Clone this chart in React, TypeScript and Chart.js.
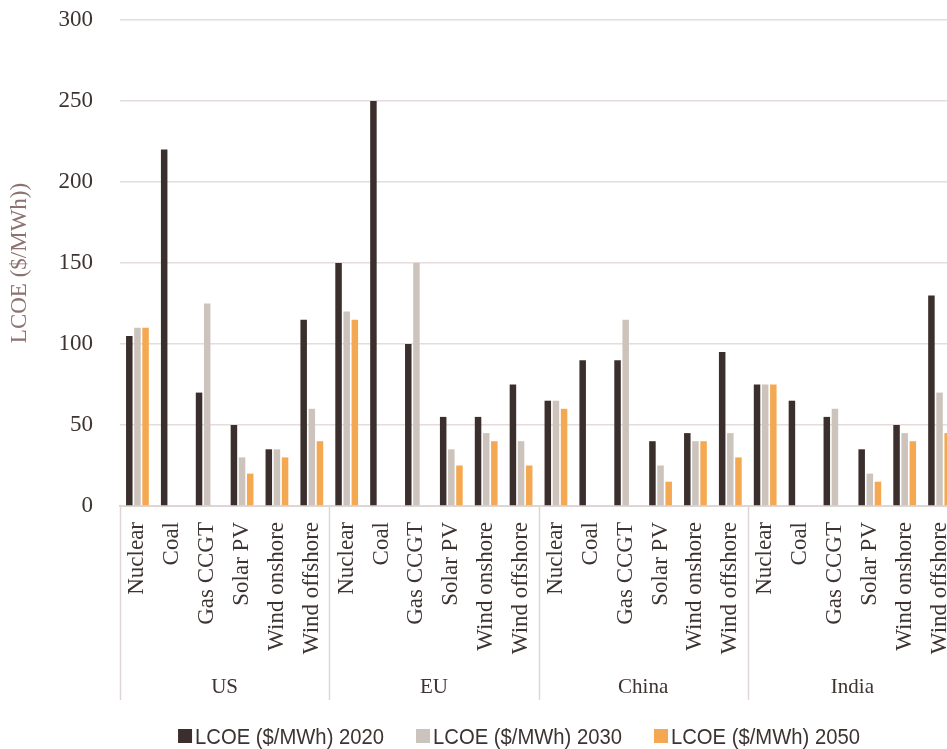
import React, { useEffect, useRef } from "react";
import { Chart, registerables } from "chart.js";

Chart.register(...registerables);

const regions = ["US", "EU", "China", "India"];
const technologies = ["Nuclear", "Coal", "Gas CCGT", "Solar PV", "Wind onshore", "Wind offshore"];
const seriesNames = ["LCOE ($/MWh) 2020", "LCOE ($/MWh) 2030", "LCOE ($/MWh) 2050"];
const lcoe2020 = [105, 220, 70, 50, 35, 115, 150, 250, 100, 55, 55, 75, 65, 90, 90, 40, 45, 95, 75, 65, 55, 35, 50, 130];
const lcoe2030 = [110, null, 125, 30, 35, 60, 120, null, 150, 35, 45, 40, 65, null, 115, 25, 40, 45, 75, null, 60, 20, 45, 70];
const lcoe2050 = [110, null, null, 20, 30, 40, 115, null, null, 25, 40, 25, 60, null, null, 15, 40, 30, 75, null, null, 15, 40, 45];
const yMin = 0;
const yMax = 300;
const yStep = 50;

const seriesColors = ["#3b2f2d", "#cdc3bd", "#f5a852"];
const TEXT = "#3d3331";
const SERIF = '"Liberation Serif", "Times New Roman", serif';
const SANS = '"Liberation Sans", Arial, sans-serif';
const W = 1038;
const H = 749;
const X_AXIS_H = 194;
const LEGEND_H = 49;

const groupPlugin = {
  id: "regionGroups",
  afterDraw(chart: any) {
    const { ctx } = chart;
    const x = chart.scales.x;
    const n = technologies.length;
    const total = x.getLabels().length;
    const cw = (x.right - x.left) / total;
    const top = x.top;
    const bottom = x.top + X_AXIS_H;
    ctx.save();
    ctx.strokeStyle = "#ddd6d4";
    ctx.lineWidth = 1.5;
    for (let g = 0; g <= regions.length; g++) {
      const px = Math.round(x.left + g * n * cw) + 0.5;
      ctx.beginPath();
      ctx.moveTo(px, top);
      ctx.lineTo(px, bottom);
      ctx.stroke();
    }
    ctx.fillStyle = TEXT;
    ctx.font = `21px ${SERIF}`;
    ctx.textAlign = "center";
    ctx.textBaseline = "middle";
    regions.forEach((r, g) => {
      const cx = x.left + (g * n + n / 2) * cw;
      ctx.fillText(r, cx, top + 181);
    });

    // legend
    const datasets = chart.data.datasets;
    const sx = 0.92;
    const box = 14;
    const gap = 3;
    const spacing = 32;
    ctx.font = `22px ${SANS}`;
    ctx.textAlign = "left";
    ctx.textBaseline = "alphabetic";
    const widths = datasets.map((d: any) => ctx.measureText(d.label).width * sx);
    const totalW = widths.reduce((a: number, w: number) => a + box + gap + w, 0) + spacing * (datasets.length - 1);
    let cx = chart.width / 2 - totalW / 2;
    const baseY = chart.height - 5;
    datasets.forEach((d: any, i: number) => {
      ctx.fillStyle = d.backgroundColor;
      ctx.fillRect(cx, baseY - 15, box, box);
      ctx.fillStyle = TEXT;
      ctx.save();
      ctx.translate(cx + box + gap, baseY);
      ctx.scale(sx, 1);
      ctx.fillText(d.label, 0, 0);
      ctx.restore();
      cx += box + gap + widths[i] + spacing;
    });
    ctx.restore();
  },
};

export default function App() {
  const ref = useRef<HTMLCanvasElement | null>(null);
  useEffect(() => {
    document.body.style.margin = "0";
    document.body.style.overflow = "hidden";
    document.documentElement.style.overflow = "hidden";
    const labels = regions.flatMap(() => technologies);
    const data = [lcoe2020, lcoe2030, lcoe2050];
    const chart = new Chart(ref.current as HTMLCanvasElement, {
      type: "bar",
      data: {
        labels,
        datasets: seriesNames.map((name, i) => ({
          label: name,
          data: data[i],
          backgroundColor: seriesColors[i],
          borderWidth: 0,
          categoryPercentage: 0.7,
          barPercentage: 0.8,
        })),
      },
      options: {
        animation: false,
        responsive: true,
        maintainAspectRatio: false,
        layout: { padding: { top: 20, right: W - 957, left: 0, bottom: LEGEND_H } },
        plugins: {
          tooltip: { enabled: false },
          legend: { display: false },
        },
        scales: {
          x: {
            grid: { display: false, drawTicks: false },
            border: { display: true, color: "#ddd6d4", width: 2 },
            ticks: {
              autoSkip: false,
              maxRotation: 90,
              minRotation: 90,
              padding: 16,
              color: TEXT,
              font: { family: SERIF, size: 23 },
            },
            afterFit: (s: any) => {
              s.height = X_AXIS_H;
            },
          },
          y: {
            min: yMin,
            max: yMax,
            grid: { color: "#e6dcdb", lineWidth: 1.5, drawTicks: false },
            border: { display: false },
            ticks: {
              stepSize: yStep,
              padding: 27,
              color: TEXT,
              font: { family: SERIF, size: 23 },
            },
            title: {
              display: true,
              text: "LCOE ($/MWh))",
              color: "#8c7370",
              font: { family: SERIF, size: 23 },
              padding: { top: 6, bottom: 0 },
            },
            afterFit: (s: any) => {
              s.width = 120;
              s.paddingTop = 0;
              s.paddingBottom = 0;
            },
          },
        },
      },
      plugins: [groupPlugin],
    });
    return () => chart.destroy();
  }, []);
  return (
    <div style={{ position: "relative", width: W, height: H }}>
      <canvas ref={ref} />
    </div>
  );
}
